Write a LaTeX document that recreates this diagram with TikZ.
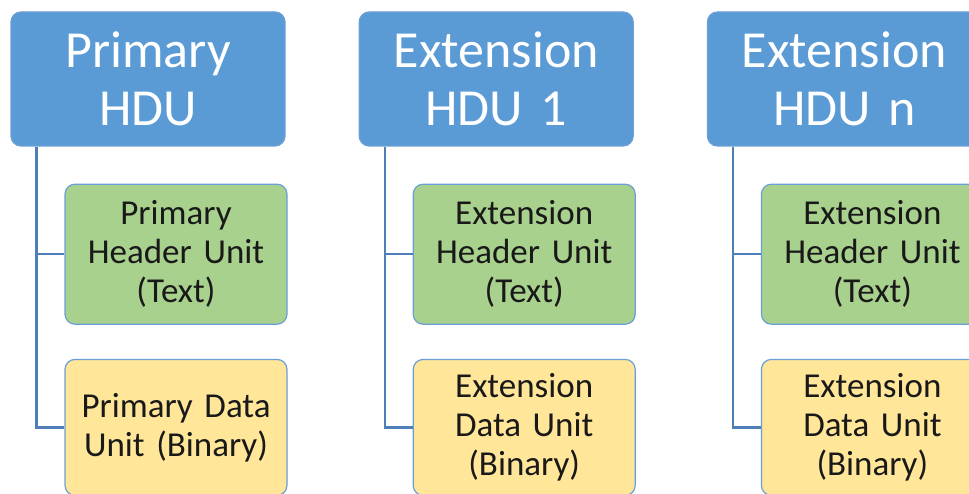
\documentclass[tikz,border=0pt]{standalone}
\usepackage{fontspec}
\setmainfont{Carlito}
\usetikzlibrary{positioning}
\definecolor{hdublue}{HTML}{5B9BD5}
\definecolor{hdrgreen}{HTML}{A9D18E}
\definecolor{datyellow}{HTML}{FFE699}
\definecolor{edgeblue}{HTML}{6A9ED6}
\definecolor{linkblue}{HTML}{4F7FB8}
\tikzset{
    x=1pt,y=-1pt,node distance=73pt and 73pt,
    hdu/.style={rectangle,rounded corners=10pt,fill=hdublue,draw=edgeblue,line width=1.2pt,
        text=white,minimum width=274pt,minimum height=134pt,text width=266pt,align=center,
        font=\fontsize{52}{58}\selectfont},
    unit/.style={rectangle,rounded corners=10pt,draw=edgeblue,line width=1.2pt,
        text=black!90,minimum width=222pt,text width=214pt,align=center,
        font=\fontsize{35}{39}\selectfont},
    hdr/.style={unit,fill=hdrgreen,minimum height=140pt},
    dat/.style={unit,fill=datyellow,minimum height=136pt},
    link/.style={draw=linkblue,line width=2.2pt}
}

\begin{document}
\begin{tikzpicture}
    \useasboundingbox (0,0) rectangle (969,494);
    \clip (0,0) rectangle (969,494);
    % HDUs
    \node[hdu] (p) at (148,79) {Primary\\HDU};
    \node[hdu] (e1) [right=of p] {Extension\\HDU 1};
    \node[hdu] (en) [right=of e1] {Extension\\HDU n};
    % header and data units
    \node[hdr] (ph) [below right=37pt and 54pt of p.south west] {Primary\\Header Unit\\(Text)};
    \node[dat] (pd) [below=34pt of ph] {Primary Data\\Unit (Binary)};
    \node[hdr] (e1h) [below right=37pt and 54pt of e1.south west] {Extension\\Header Unit\\(Text)};
    \node[dat] (e1d) [below=34pt of e1h] {Extension\\Data Unit\\(Binary)};
    \node[hdr] (enh) [below right=37pt and 54pt of en.south west] {Extension\\Header Unit\\(Text)};
    \node[dat] (end) [below=34pt of enh] {Extension\\Data Unit\\(Binary)};
    % links
    \coordinate (pt) at ([xshift=26pt]p.south west);
    \coordinate (e1t) at ([xshift=26pt]e1.south west);
    \coordinate (ent) at ([xshift=26pt]en.south west);
    \draw[link] (pt) |- (ph.west);
    \draw[link] (pt) |- (pd.west);
    \draw[link] (e1t) |- (e1h.west);
    \draw[link] (e1t) |- (e1d.west);
    \draw[link] (ent) |- (enh.west);
    \draw[link] (ent) |- (end.west);
\end{tikzpicture}
\end{document}
